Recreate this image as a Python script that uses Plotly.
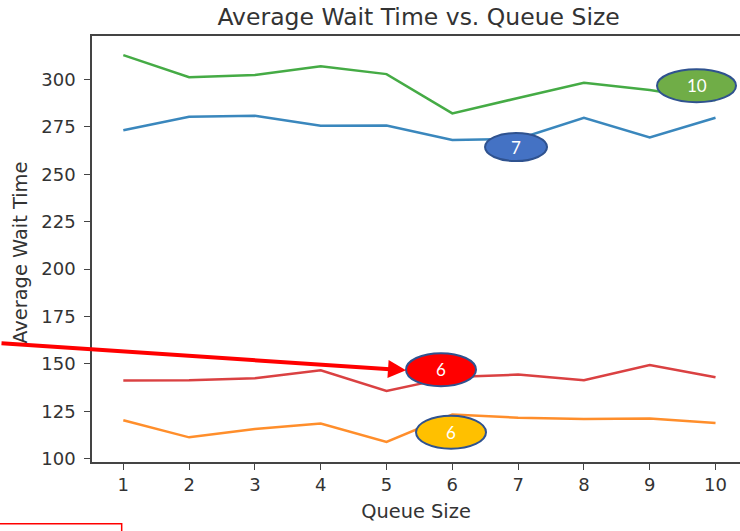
import plotly.graph_objects as go

queue_size = [1, 2, 3, 4, 5, 6, 7, 8, 9, 10]
wait_blue = [273.2, 280.3, 280.8, 275.5, 275.7, 268.0, 268.6, 279.7, 269.4, 279.8]
wait_orange = [120.2, 111.2, 115.6, 118.5, 108.8, 123.2, 121.6, 120.9, 121.1, 118.8]
wait_green = [312.8, 301.2, 302.3, 306.9, 302.8, 282.1, 290.2, 298.2, 294.4, 289.0]
wait_red = [141.2, 141.3, 142.4, 146.6, 135.7, 143.1, 144.3, 141.3, 149.4, 142.9]

y_ticks = [100, 125, 150, 175, 200, 225, 250, 275, 300]

series = [
    (wait_blue, "#1f77b4"),
    (wait_orange, "#ff7f0e"),
    (wait_green, "#2ca02c"),
    (wait_red, "#d62728"),
]

# callout bubbles: (label, x, y, fill, width_px, height_px)
bubbles = [
    ("10", 9.711, 296.7, "#70AD47", 79, 33),
    ("7", 6.968, 264.3, "#4472C4", 62, 28),
    ("6", 5.828, 146.9, "#FF0000", 70, 33),
    ("6", 5.98, 113.9, "#FFC000", 70, 33),
]

fig = go.Figure()
for vals, col in series:
    fig.add_trace(go.Scatter(x=queue_size, y=vals, mode="lines",
                             line=dict(color=col, width=2.5), showlegend=False,
                             opacity=0.88))

tick_font = dict(family="DejaVu Sans", size=18, color="#333333")
label_font = dict(family="DejaVu Sans", size=19.4, color="#333333")

fig.update_layout(
    width=740, height=531,
    margin=dict(l=92, r=0, t=36, b=69, autoexpand=False),
    paper_bgcolor="white", plot_bgcolor="white",
    title=dict(text="Average Wait Time vs. Queue Size", x=0.504, xref="paper",
               xanchor="center", y=0.968, yanchor="middle", automargin=False,
               font=dict(family="DejaVu Sans", size=23.5, color="#333333")),
    xaxis=dict(range=[0.524, 10.372], tickvals=queue_size, showgrid=False,
               zeroline=False, showline=True, linecolor="#444444", linewidth=1.5,
               mirror=True, ticks="outside", ticklen=6, tickcolor="#444444",
               tickwidth=1.3, tickfont=tick_font, automargin=False,
               title=dict(text="Queue Size", font=label_font, standoff=10)),
    yaxis=dict(range=[98.2, 322.9], tickvals=y_ticks, showgrid=False,
               zeroline=False, showline=True, linecolor="#444444", linewidth=1.5,
               ticks="outside", ticklen=6, tickcolor="#444444", tickwidth=1.3,
               tickfont=tick_font, automargin=False, ticklabelstandoff=5),
)

# y-axis title placed as text
fig.add_annotation(text="Average Wait Time", xref="paper", yref="paper",
                   x=-0.1096, y=0.491, xanchor="center", yanchor="middle",
                   textangle=-90, showarrow=False, font=label_font)

for label, bx, by, fill, w, h in bubbles:
    fig.add_shape(type="circle", xref="x", yref="y", xsizemode="pixel",
                  ysizemode="pixel", xanchor=bx, yanchor=by,
                  x0=-w / 2, x1=w / 2, y0=-h / 2, y1=h / 2,
                  fillcolor=fill, line=dict(color="#2F528F", width=2),
                  layer="above")
    fig.add_annotation(x=bx, y=by, xref="x", yref="y", text=label,
                       showarrow=False,
                       font=dict(family="Lato", size=17, color="white"))

# red pointer arrow
fig.add_annotation(x=5.296, y=146.6, xref="x", yref="y", ax=-406, ay=-27,
                   text="", showarrow=True, arrowhead=2, arrowsize=0.9,
                   arrowwidth=4, arrowcolor="#FF0000")

# red box at bottom-left
fig.add_shape(type="rect", xref="paper", yref="paper",
              x0=-0.16, x1=0.0458, y0=-0.17, y1=-0.1447,
              line=dict(color="#FF0000", width=1.5), fillcolor="rgba(0,0,0,0)")

fig.write_html("out.html", config={"displayModeBar": False},
               post_script="document.body.style.margin='0px';"
                           "document.body.style.overflow='hidden';")
